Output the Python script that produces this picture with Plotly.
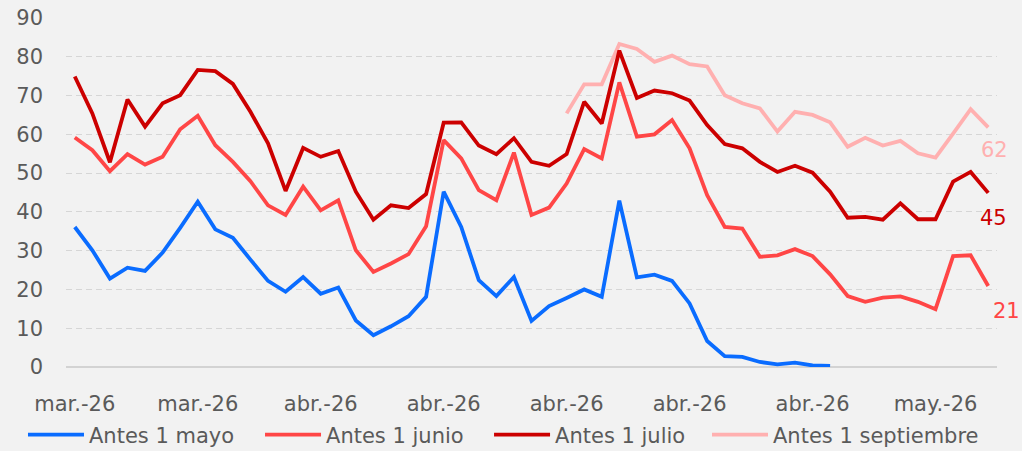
import plotly.graph_objects as go

# x positions: daily observations (index), labelled weekly
n_points = 53
x_idx = list(range(n_points))
tick_vals = [0, 7, 14, 21, 28, 35, 42, 49]
tick_text = ["mar.-26", "mar.-26", "abr.-26", "abr.-26", "abr.-26", "abr.-26", "abr.-26", "may.-26"]

mayo = [36.1, 30.1, 22.8, 25.6, 24.8, 29.5, 35.9, 42.6, 35.5, 33.3, 27.7, 22.2, 19.4,
        23.2, 18.9, 20.5, 12.0, 8.2, 10.5, 13.1, 18.1, 45.2, 36.1, 22.4, 18.3, 23.2,
        11.9, 15.7, 17.8, 20.0, 18.1, 42.9, 23.1, 23.8, 22.2, 16.4, 6.7, 2.8, 2.6,
        1.3, 0.7, 1.1, 0.4, 0.3]
junio = [59.2, 55.9, 50.5, 54.9, 52.2, 54.2, 61.3, 64.8, 57.2, 52.9, 47.9, 41.7, 39.2,
         46.5, 40.4, 43.0, 30.1, 24.5, 26.7, 29.1, 36.3, 58.5, 53.8, 45.6, 43.0, 55.3,
         39.2, 41.1, 47.3, 56.2, 53.8, 73.4, 59.4, 60.0, 63.7, 56.4, 44.3, 36.1, 35.7,
         28.4, 28.8, 30.4, 28.6, 23.9, 18.3, 16.8, 17.9, 18.2, 16.8, 14.9, 28.6, 28.8, 20.9]
julio = [74.9, 65.4, 52.8, 69.0, 62.0, 68.0, 70.1, 76.6, 76.3, 73.0, 65.8, 57.7, 45.4,
         56.5, 54.2, 55.7, 45.2, 38.0, 41.7, 41.0, 44.6, 63.0, 63.1, 57.1, 54.9, 59.0,
         52.9, 51.9, 54.9, 68.4, 62.8, 81.6, 69.4, 71.3, 70.6, 68.7, 62.4, 57.5, 56.4,
         52.9, 50.3, 51.9, 50.1, 45.2, 38.5, 38.7, 38.0, 42.2, 38.1, 38.1, 47.8, 50.3, 44.9]
septiembre = [65.4, 72.9, 72.9, 83.3, 82.0, 78.7, 80.3, 78.1, 77.5, 70.1, 68.0, 66.7,
              60.7, 65.8, 65.0, 63.1, 56.8, 59.1, 57.1, 58.3, 55.1, 54.0, 60.2, 66.5, 61.8]
septiembre_start = 28

names = ["Antes 1 mayo", "Antes 1 junio", "Antes 1 julio", "Antes 1 septiembre"]
colors = ["#0A6CFF", "#FF4646", "#CC0000", "#FFB0B0"]

FONT = "DejaVu Sans"
TXT = "#5A5A5A"
BG = "#F2F2F2"

# one legend per series so each entry sits where the reference has it
legend_ids = ["legend", "legend2", "legend3", "legend4"]
legend_x = [-0.0462, 0.2084, 0.4544, 0.6885]

fig = go.Figure()
series = [
    (x_idx[septiembre_start:], septiembre, 3),
    (x_idx[:len(junio)], junio, 1),
    (x_idx[:len(julio)], julio, 2),
    (x_idx[:len(mayo)], mayo, 0),
]
for xs, ys, k in series:
    fig.add_trace(go.Scatter(
        x=xs, y=ys, mode="lines", name=names[k], legend=legend_ids[k],
        line=dict(color=colors[k], width=3.8),
        hoverinfo="skip",
    ))

# end-value labels
end_labels = [
    (septiembre, colors[3], 6, -23),
    (julio, colors[2], 5, -25),
    (junio, colors[1], 18, -25),
]
for ys, c, xs_, ys_ in end_labels:
    fig.add_annotation(
        x=n_points - 1, y=ys[-1], text=f"{round(ys[-1])}", showarrow=False,
        xanchor="center", yanchor="middle", xshift=xs_, yshift=ys_,
        font=dict(family=FONT, size=21, color=c),
    )

legend_style = dict(
    orientation="h", xanchor="left", y=-0.2533, yanchor="bottom",
    font=dict(family=FONT, size=21, color=TXT),
    itemwidth=56, bgcolor="rgba(0,0,0,0)",
)
legends = {lid: dict(legend_style, x=lx) for lid, lx in zip(legend_ids, legend_x)}

fig.update_layout(
    width=1022, height=451,
    paper_bgcolor=BG, plot_bgcolor=BG,
    margin=dict(l=66, r=25, t=18, b=84, autoexpand=False),
    font=dict(family=FONT, size=21, color=TXT),
    showlegend=True,
    **legends,
    xaxis=dict(
        range=[-0.5, n_points - 0.5], tickvals=tick_vals, ticktext=tick_text,
        showgrid=False, zeroline=False, showline=False, automargin=False,
        ticks="outside", ticklen=18, tickcolor=BG,
        tickfont=dict(family=FONT, size=21, color=TXT),
        fixedrange=True,
    ),
    yaxis=dict(
        range=[0, 90], tickvals=[0, 10, 20, 30, 40, 50, 60, 70, 80, 90],
        showgrid=True, gridcolor="#D6D6D6", gridwidth=1, griddash="6px,4px",
        zeroline=True, zerolinecolor="#D3D3D3", zerolinewidth=2,
        showline=False, ticks="", ticklabelstandoff=22, automargin=False,
        tickfont=dict(family=FONT, size=21, color=TXT),
        fixedrange=True,
    ),
)

fig.write_html(
    "out.html",
    config={"displayModeBar": False},
    post_script="document.body.style.margin='0';document.body.style.background='#F2F2F2';",
)
